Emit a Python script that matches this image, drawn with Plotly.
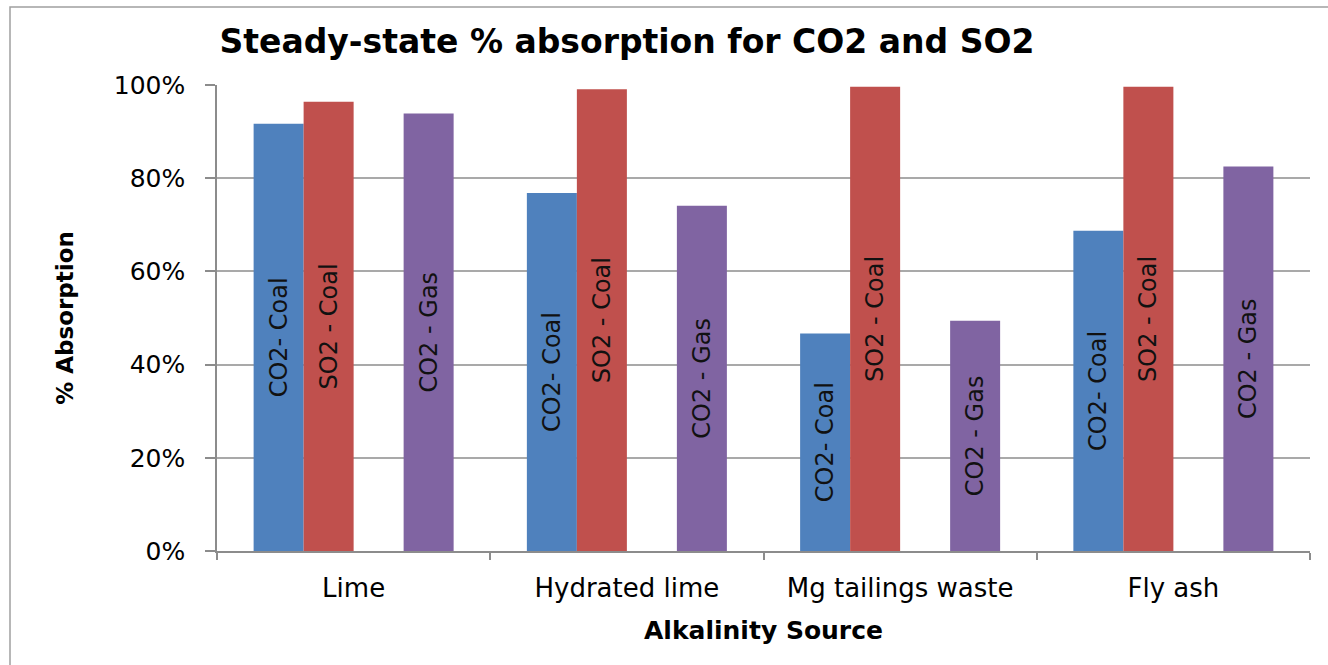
import plotly.graph_objects as go

# Alkalinity sources on the category axis
categories = ["Lime", "Hydrated lime", "Mg tailings waste", "Fly ash"]

# Steady-state absorption (%) per flue-gas case
co2_coal = [91.7, 76.8, 46.7, 68.7]
so2_coal = [96.4, 99.1, 99.6, 99.6]
co2_gas = [93.9, 74.1, 49.4, 82.5]

series_names = ["CO2- Coal", "SO2 - Coal", "CO2 - Gas"]
series_values = [co2_coal, so2_coal, co2_gas]
series_colors = ["#4F81BD", "#C0504D", "#8064A2"]
# group slot of each series (slot 2 is the SO2 - Gas position, which has no data)
series_slots = [0, 1, 3]

W, H = 1328, 665
ML, MR, MT, MB = 217, 18, 85, 114
PW, PH = W - ML - MR, H - MT - MB

n_slots = 4
bargap = 0.268
slot_w = (1 - bargap) / n_slots

FONT = "DejaVu Sans"
AXIS_COL = "#8c8c8c"
GRID_COL = "#a9a9a9"

fig = go.Figure()
for name, vals, col, slot in zip(series_names, series_values, series_colors, series_slots):
    fig.add_trace(go.Bar(
        x=categories,
        y=vals,
        name=name,
        marker=dict(color=col, line=dict(width=0)),
        width=slot_w,
        offset=-n_slots / 2 * slot_w + slot * slot_w,
        text=[name] * len(categories),
        texttemplate="%{text}",
        textposition="inside",
        insidetextanchor="middle",
        textangle=-90,
        insidetextfont=dict(family=FONT, size=24, color="#111111"),
        constraintext="none",
        hoverinfo="x+y+name",
    ))

# outer chart frame (left and top edges fall inside the page)
fig.add_shape(
    type="rect", xref="paper", yref="paper",
    x0=(10 - ML) / PW, x1=(W + 40 - ML) / PW,
    y0=1 + (MT - 7) / PH, y1=-(MB + 40) / PH,
    line=dict(color="#a0a0a0", width=1.5), fillcolor="rgba(0,0,0,0)",
    layer="below",
)

fig.update_layout(
    width=W, height=H,
    margin=dict(l=ML, r=MR, t=MT, b=MB, autoexpand=False),
    paper_bgcolor="white", plot_bgcolor="white",
    showlegend=False,
    barmode="overlay",
    font=dict(family=FONT, color="#000000"),
    title=dict(
        text="<b>Steady-state % absorption for CO2 and SO2</b>",
        font=dict(family=FONT, size=33, color="#000000"),
        xref="container", yref="container",
        x=627 / W, xanchor="center",
        y=1 - 41 / H, yanchor="middle",
    ),
    xaxis=dict(
        type="category",
        range=[-0.5, len(categories) - 0.5],
        showline=True, linecolor=AXIS_COL, linewidth=1.5,
        ticks="outside", tickson="boundaries", ticklen=7, tickcolor=AXIS_COL, tickwidth=1.5,
        tickfont=dict(family=FONT, size=26, color="#000000"),
        ticklabelstandoff=13,
        showgrid=False,
        title=dict(text="<b>Alkalinity Source</b>",
                   font=dict(family=FONT, size=25, color="#000000"),
                   standoff=20),
    ),
    yaxis=dict(
        range=[0, 100],
        tick0=0, dtick=20, ticksuffix="%",
        showline=True, linecolor=AXIS_COL, linewidth=1.5,
        ticks="outside", ticklen=10, tickcolor=AXIS_COL, tickwidth=1.5,
        tickfont=dict(family=FONT, size=25, color="#000000"),
        ticklabelstandoff=15,
        showgrid=True, gridcolor=GRID_COL, gridwidth=1.5,
        zeroline=False,
        title=dict(text="<b>% Absorption</b>",
                   font=dict(family=FONT, size=23, color="#000000"),
                   standoff=34),
    ),
)

fig.write_html("out.html")
